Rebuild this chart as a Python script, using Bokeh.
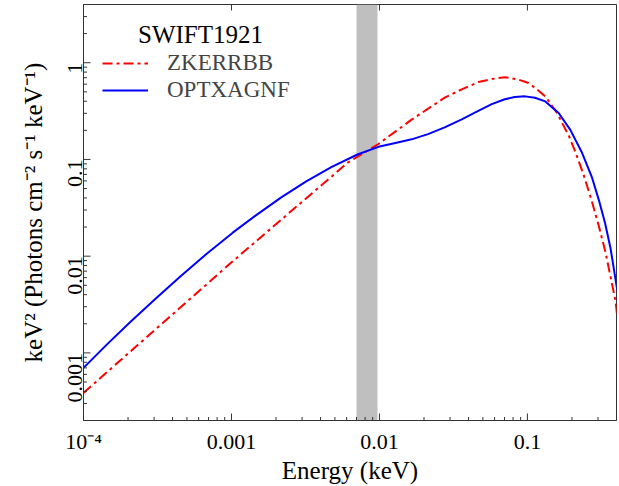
import math
from bokeh.plotting import figure
from bokeh.models import (Range1d, CustomJSTickFormatter,
                          Legend, LegendItem, BoxAnnotation, Label)
from bokeh.embed import file_html
from bokeh.resources import INLINE

# ---- data (keV, keV^2 Photons cm^-2 s^-1 keV^-1) ----
energy_zkerrbb = [1.00e-4, 9.93e-4, 6.14e-3, 8.41e-3, 9.84e-3, 1.65e-2, 2.76e-2,
                  3.60e-2, 4.67e-2, 5.74e-2, 7.08e-2, 8.51e-2, 0.1019, 0.1148,
                  0.1321, 0.1585, 0.191, 0.2109, 0.2399, 0.2735, 0.304, 0.3365,
                  0.3936, 0.4046]
flux_zkerrbb = [3.86e-4, 8.55e-3, 9.33e-2, 0.1245, 0.1445, 0.258, 0.435,
                0.531, 0.631, 0.679, 0.708, 0.676, 0.617, 0.537,
                0.449, 0.302, 0.174, 0.120, 0.0692, 0.0363, 0.0204, 0.01109,
                0.00347, 0.0024]

energy_optxagnf = [1.00e-4, 1.43e-4, 2.08e-4, 3.08e-4, 4.55e-4, 6.71e-4, 1.02e-3,
                   1.47e-3, 2.17e-3, 3.20e-3, 4.73e-3, 7.10e-3, 9.84e-3, 1.26e-2,
                   1.65e-2, 2.13e-2, 2.76e-2, 3.60e-2, 4.69e-2, 5.74e-2, 7.03e-2,
                   8.22e-2, 9.62e-2, 0.1125, 0.1321, 0.1626, 0.195, 0.234, 0.2735,
                   0.304, 0.335, 0.3648, 0.4046]
flux_optxagnf = [7.01e-4, 1.21e-3, 2.10e-3, 3.66e-3, 6.25e-3, 1.04e-2, 1.75e-2,
                 2.66e-2, 4.05e-2, 5.93e-2, 8.34e-2, 0.1125, 0.135, 0.147,
                 0.1614, 0.1828, 0.2148, 0.260, 0.320, 0.373, 0.419,
                 0.442, 0.449, 0.435, 0.398, 0.302, 0.202, 0.1172, 0.0647,
                 0.0380, 0.0219, 0.0120, 0.00447]

band_low = 0.007
band_high = 0.0097
x_limits = (1.0e-4, 0.40)
y_limits = (2.0e-4, 4.0)

# tick values (drawn as inward ticks)
x_major_ticks = [1e-4, 1e-3, 1e-2, 1e-1]
x_minor_ticks = [2e-4, 3e-4, 4e-4, 5e-4, 6e-4, 7e-4, 8e-4, 9e-4,
                 2e-3, 3e-3, 4e-3, 5e-3, 6e-3, 7e-3, 8e-3, 9e-3,
                 2e-2, 3e-2, 4e-2, 5e-2, 6e-2, 7e-2, 8e-2, 9e-2,
                 0.2, 0.3]
y_major_ticks = [1e-3, 1e-2, 1e-1, 1.0]
y_minor_ticks = [3e-4, 4e-4, 5e-4, 6e-4, 7e-4, 8e-4, 9e-4,
                 2e-3, 3e-3, 4e-3, 5e-3, 6e-3, 7e-3, 8e-3, 9e-3,
                 2e-2, 3e-2, 4e-2, 5e-2, 6e-2, 7e-2, 8e-2, 9e-2,
                 0.2, 0.3, 0.4, 0.5, 0.6, 0.7, 0.8, 0.9, 2.0, 3.0]

series_names = ["ZKERRBB", "OPTXAGNF"]
legend_title = "SWIFT1921"
x_title = "Energy (keV)"
y_title = "keV\u00b2 (Photons cm\u207b\u00b2 s\u207b\u00b9 keV\u207b\u00b9)"

FONT = "Liberation Serif"
AXC = "#333333"

p = figure(width=619, height=486, x_axis_type="log", y_axis_type="log",
           x_range=Range1d(*x_limits), y_range=Range1d(*y_limits),
           output_backend="svg", toolbar_location=None,
           min_border_left=83, min_border_right=3, min_border_top=4,
           min_border_bottom=65)
p.xgrid.visible = False
p.ygrid.visible = False
p.outline_line_color = AXC
p.outline_line_width = 1
p.background_fill_color = None
p.border_fill_color = None

fmt_code = """
if (Math.abs(tick - 1e-4) < 1e-9) { return "10\u207b\u2074"; }
return String(Number(tick.toPrecision(3)));
"""

for ax in (p.xaxis[0], p.yaxis[0]):
    ax.major_tick_in = 0
    ax.major_tick_out = 0
    ax.minor_tick_in = 0
    ax.minor_tick_out = 0
    ax.axis_line_color = AXC
    ax.major_label_text_font = FONT
    ax.major_label_text_font_size = "22px"
    ax.major_label_text_color = "black"
    ax.axis_label_text_font = FONT
    ax.axis_label_text_font_size = "25px"
    ax.axis_label_text_font_style = "normal"
    ax.axis_label_text_color = "black"
    ax.formatter = CustomJSTickFormatter(code=fmt_code)

p.xaxis[0].axis_label = x_title
p.yaxis[0].axis_label = y_title
p.yaxis[0].major_label_orientation = math.pi / 2
p.xaxis[0].major_label_standoff = 8
p.yaxis[0].major_label_standoff = 8
p.xaxis[0].axis_label_standoff = 0
p.yaxis[0].axis_label_standoff = 12

band = BoxAnnotation(left=band_low, right=band_high, fill_color="#bfbfbf",
                     fill_alpha=1.0, line_color=None, level="underlay")
p.add_layout(band)

r_z = p.line(energy_zkerrbb, flux_zkerrbb, line_color="red", line_width=2,
             line_dash="10 4 3 4")
r_o = p.line(energy_optxagnf, flux_optxagnf, line_color="blue", line_width=2)

# inward ticks: dash markers centred on the frame edges (outer half clipped)
tick_style = dict(marker="dash", line_color=AXC, line_width=1)
p.scatter(x_major_ticks, [y_limits[0]] * len(x_major_ticks), size=14,
          angle=math.pi / 2, **tick_style)
p.scatter(x_minor_ticks, [y_limits[0]] * len(x_minor_ticks), size=7,
          angle=math.pi / 2, **tick_style)
p.scatter(x_major_ticks, [y_limits[1]] * len(x_major_ticks), size=12,
          angle=math.pi / 2, **tick_style)
p.scatter([x_limits[0]] * len(y_major_ticks), y_major_ticks, size=14,
          **tick_style)
p.scatter([x_limits[0]] * len(y_minor_ticks), y_minor_ticks, size=7,
          **tick_style)

legend = Legend(items=[LegendItem(label=series_names[0], renderers=[r_z]),
                       LegendItem(label=series_names[1], renderers=[r_o])],
                location=(19, 317), border_line_color=None,
                background_fill_alpha=0, label_text_font=FONT,
                label_text_font_size="23px", glyph_width=46, glyph_height=20,
                label_height=20, spacing=1, padding=5, label_standoff=19,
                margin=0)
p.add_layout(legend)

title = Label(x=117, y=386, x_units="screen", y_units="screen",
              text=legend_title, text_align="center", text_baseline="middle",
              text_font=FONT, text_font_size="25px", text_color="black")
p.add_layout(title)

open("out.html", "w").write(file_html(p, INLINE))
